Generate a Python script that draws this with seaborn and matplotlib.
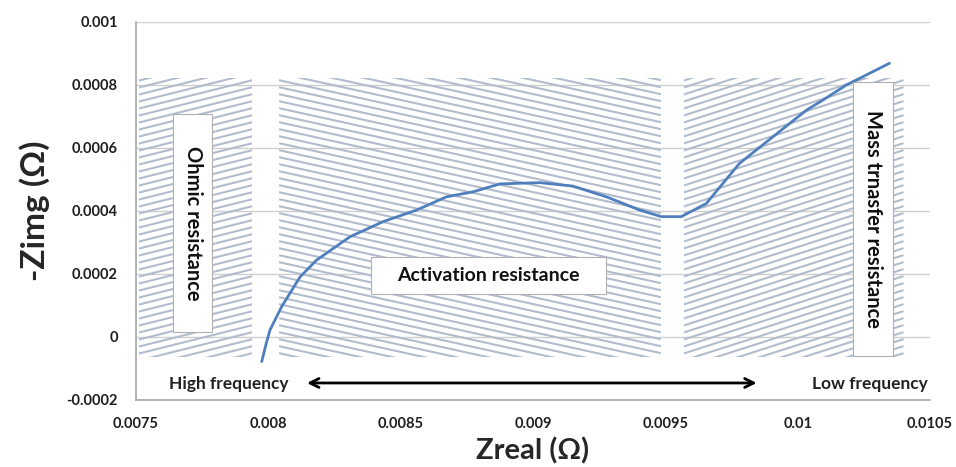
import numpy as np
import pandas as pd
import matplotlib
matplotlib.use("Agg")
import matplotlib.pyplot as plt
import seaborn as sns
from matplotlib.patches import Rectangle

# impedance curve
z_real = [0.007975, 0.007992, 0.008006, 0.00805, 0.00812, 0.008182, 0.008308, 0.008433,
          0.00856, 0.008673, 0.008774, 0.008875, 0.009026, 0.009151, 0.009277,
          0.009403, 0.009485, 0.00956, 0.009655, 0.00978, 0.009907, 0.010033,
          0.010095, 0.010184, 0.010347]
z_img = [-0.000078, -0.00002, 0.000022, 0.000096, 0.000191, 0.000244, 0.000318, 0.000366,
         0.000403, 0.000445, 0.000461, 0.000486, 0.00049, 0.000479, 0.000445,
         0.000403, 0.000382, 0.000382, 0.000424, 0.000551, 0.000636, 0.00072,
         0.000752, 0.0008, 0.000869]

# shaded regions (x start, x end)
region_names = ["Ohmic resistance", "Activation resistance", "Mass trnasfer resistance"]
region_x0 = [0.00751, 0.00804, 0.00957]
region_x1 = [0.00794, 0.009483, 0.0104]
region_ybot = -0.000064
region_ytop = 0.000822

x_ticks = [0.0075, 0.008, 0.0085, 0.009, 0.0095, 0.01, 0.0105]
x_labels = ["0.0075", "0.008", "0.0085", "0.009", "0.0095", "0.01", "0.0105"]
y_ticks = [-0.0002, 0, 0.0002, 0.0004, 0.0006, 0.0008, 0.001]
y_labels = ["-0.0002", "0", "0.0002", "0.0004", "0.0006", "0.0008", "0.001"]

sns.set_theme(style="white")
plt.rcParams["font.family"] = ["Lato", "DejaVu Sans"]

fig = plt.figure(figsize=(9.56, 4.67), dpi=100)
ax = fig.add_axes([0.1423, 0.1435, 0.8305, 0.8094])

df = pd.DataFrame({"Zreal": z_real, "Zimg": z_img})

ax.set_xlim(0.0075, 0.0105)
ax.set_ylim(-0.0002, 0.001)

# gridlines
for yv in y_ticks[1:]:
    ax.axhline(yv, color="#cfcfcf", lw=1.0, zorder=0)

# hatched regions, drawn with shallow lines clipped to the rectangles
xpp = 0.003 / (0.8305 * 956)   # data per pixel
ypp = 0.0012 / (0.8094 * 467)
slopes = [0.25, -0.22, 0.32]
spacing = 7.0
for x0, x1, s in zip(region_x0, region_x1, slopes):
    rect = Rectangle((x0, region_ybot), x1 - x0, region_ytop - region_ybot,
                     facecolor="none", edgecolor="none")
    ax.add_patch(rect)
    w_px = (x1 - x0) / xpp
    h_px = (region_ytop - region_ybot) / ypp
    offs = np.arange(-abs(s) * w_px - 10, h_px + abs(s) * w_px + 10, spacing)
    for o in offs:
        xs = np.array([0, w_px])
        ys = o + s * xs
        ln, = ax.plot(x0 + xs * xpp, region_ybot + ys * ypp,
                      color="#b3bccc", lw=1.5, zorder=1, solid_capstyle="butt")
        ln.set_clip_path(rect)

# curve
sns.lineplot(data=df, x="Zreal", y="Zimg", ax=ax, color="#4f7fbd", lw=2,
             sort=False, zorder=3)

# label boxes
box_kw = dict(facecolor="white", edgecolor="#b0b0b0", lw=0.8, zorder=4)
ax.add_patch(Rectangle((0.007641, 0.000016), 0.000147, 0.000692, **box_kw))
ax.text(0.007715, 0.000362, region_names[0], rotation=-90, ha="center", va="center",
        fontsize=14.5, fontweight="bold", color="#111111", zorder=5)
ax.add_patch(Rectangle((0.008386, 0.000137), 0.000891, 0.000117, **box_kw))
ax.text(0.008831, 0.000195, region_names[1], ha="center", va="center",
        fontsize=14, fontweight="bold", color="#111111", zorder=5)
ax.add_patch(Rectangle((0.010208, -0.0000603), 0.000151, 0.00087, **box_kw))
ax.text(0.010284, 0.000375, region_names[2], rotation=-90, ha="center", va="center",
        fontsize=14.5, fontweight="bold", color="#111111", zorder=5)

# frequency arrow
ax.annotate("", xy=(0.009845, -0.000146), xytext=(0.008146, -0.000146),
            arrowprops=dict(arrowstyle="<->", color="black", lw=2,
                            mutation_scale=16, shrinkA=0, shrinkB=0), zorder=5)
ax.text(0.007851, -0.000148, "High frequency", ha="center", va="center",
        fontsize=12.5, fontweight="bold", color="#222222")
ax.text(0.010272, -0.000148, "Low frequency", ha="center", va="center",
        fontsize=12.5, fontweight="bold", color="#222222")

ax.set_xticks(x_ticks)
ax.set_xticklabels(x_labels)
ax.set_yticks(y_ticks)
ax.set_yticklabels(y_labels)
ax.tick_params(axis="both", direction="out", length=5, width=1, color="#a6a6a6",
               labelsize=10.5, pad=7)
ax.tick_params(axis="y", pad=8)
for lab in ax.get_xticklabels() + ax.get_yticklabels():
    lab.set_fontweight("bold")
    lab.set_color("#1e1e1e")

for sp in ["top", "right"]:
    ax.spines[sp].set_visible(False)
for sp in ["left", "bottom"]:
    ax.spines[sp].set_color("#a6a6a6")
    ax.spines[sp].set_linewidth(1.2)

ax.set_xlabel("Zreal (Ω)", fontsize=21, fontweight="bold", labelpad=5)
ax.set_ylabel("-Zimg (Ω)", fontsize=24, fontweight="bold", labelpad=12)

fig.savefig("out.png", dpi=100)
